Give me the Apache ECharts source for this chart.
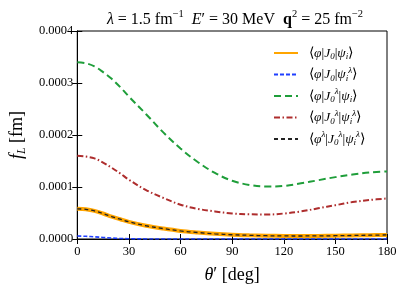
<!DOCTYPE html>
<html><head><meta charset="utf-8">
<script src="https://cdn.jsdelivr.net/npm/echarts@6/dist/echarts.min.js"></script>
<style>html,body{margin:0;padding:0;background:#fff}#c{width:407px;height:291px}</style>
</head><body><div id="c"></div>
<script>
const theta = [0,5,10,15,20,25,30,40,50,60,70,80,90,100,110,120,130,140,150,160,170,180];
// values in units of 1e-4 fm
const orangeVals = [0.58,0.57,0.54,0.49,0.43,0.38,0.33,0.255,0.20,0.155,0.125,0.10,0.082,0.071,0.063,0.059,0.058,0.060,0.063,0.068,0.073,0.078];
const blueVals   = [0.058,0.052,0.042,0.030,0.018,0.010,0.005,0.001,0,0,0,0,0,0,0,0,0,0,0,0,0,0];
const greenVals  = [3.40,3.38,3.32,3.21,3.08,2.92,2.74,2.40,2.05,1.74,1.48,1.27,1.12,1.04,1.01,1.02,1.07,1.13,1.19,1.24,1.28,1.30];
const redVals    = [1.60,1.585,1.55,1.47,1.37,1.26,1.14,0.94,0.79,0.66,0.58,0.53,0.49,0.475,0.47,0.49,0.53,0.59,0.65,0.71,0.75,0.78];
const blackVals  = [0.58,0.57,0.54,0.49,0.43,0.38,0.33,0.255,0.20,0.155,0.125,0.10,0.082,0.071,0.063,0.059,0.058,0.060,0.063,0.068,0.073,0.078];
const xTicks = [0,30,60,90,120,150,180];
const yTickLabels = ['0.0000','0.0001','0.0002','0.0003','0.0004'];

const F = 'Liberation Serif';
function pts(v){ return theta.map((t,i)=>[t, v[i]*1e-4]); }

const legendText = {
  a: '⟨{i|φ}|{i|J}{sub|0}|{i|ψ}{sub|i}⟩',
  b: '⟨{i|φ}|{i|J}{sub|0}|{i|ψ}{sub|i}{sup|λ}⟩',
  c: '⟨{i|φ}|{i|J}{sub|0}{sup|λ}|{i|ψ}{sub|i}⟩',
  d: '⟨{i|φ}|{i|J}{sub|0}{sup|λ}|{i|ψ}{sub|i}{sup|λ}⟩',
  e: '⟨{i|φ}{sup|λ}|{i|J}{sub|0}{sup|λ}|{i|ψ}{sub|i}{sup|λ}⟩'
};
const rich = {
  i: {fontFamily:F, fontStyle:'italic', fontSize:13.5, lineHeight:17, verticalAlign:'middle'},
  sub: {fontFamily:F, fontStyle:'italic', fontSize:9, lineHeight:8, verticalAlign:'bottom'},
  sup: {fontFamily:F, fontStyle:'italic', fontSize:9, lineHeight:8, verticalAlign:'top'}
};

const chart = echarts.init(document.getElementById('c'), null, {renderer:'canvas'});
chart.setOption({
  animation:false,
  backgroundColor:'#fff',
  title:{
    text:'{i|λ} = 1.5 fm{sup|−1}  {i|E}′ = 30 MeV  {b|q}{sup|2} = 25 fm{sup|−2}',
    left:230, top:4, textAlign:'center',
    textStyle:{fontFamily:F, fontSize:16, fontWeight:'normal', color:'#000', lineHeight:21,
      rich:{
        i:{fontFamily:F, fontStyle:'italic', fontSize:16, lineHeight:21, color:'#000'},
        b:{fontFamily:F, fontWeight:'bold', fontSize:16, lineHeight:21, color:'#000'},
        sup:{fontFamily:F, fontSize:10.5, lineHeight:10, verticalAlign:'top', color:'#000'}
      }}
  },
  grid:{left:74, right:20, top:31, bottom:52, show:true, borderColor:'#000', borderWidth:1},
  legend:{
    orient:'vertical', left:268, top:41, itemWidth:24, itemHeight:10, itemGap:4.5,
    itemStyle:{opacity:0},
    textStyle:{fontFamily:F, fontSize:13.5, color:'#000', padding:[0,0,0,6], rich:rich},
    formatter:n=>legendText[n]
  },
  xAxis:[{
    type:'value', min:0, max:180, interval:30,
    axisLine:{show:true, lineStyle:{color:'#000'}},
    axisTick:{inside:true, length:5, lineStyle:{color:'#000'}},
    splitLine:{show:false},
    axisLabel:{fontFamily:F, fontSize:12.5, color:'#000', margin:6, formatter:v=>String(v)},
    name:'{i|θ}′ [deg]', nameLocation:'middle', nameGap:27,
    nameTextStyle:{fontFamily:F, fontSize:18, color:'#000', rich:{i:{fontFamily:F, fontStyle:'italic', fontSize:18}}}
  },{
    type:'value', position:'top', min:0, max:180, interval:30,
    axisLine:{show:true, lineStyle:{color:'#000'}},
    axisTick:{inside:true, length:5, lineStyle:{color:'#000'}},
    axisLabel:{show:false}, splitLine:{show:false}
  }],
  yAxis:[{
    type:'value', min:0, max:0.0004, interval:0.0001,
    axisLine:{show:true, lineStyle:{color:'#000'}},
    axisTick:{inside:true, length:5, lineStyle:{color:'#000'}},
    splitLine:{show:false},
    axisLabel:{fontFamily:F, fontSize:12.5, color:'#000', margin:4, formatter:(v,i)=>yTickLabels[Math.round(v/0.0001)]},
    name:'{i|f}{sub|L} [fm]', nameLocation:'middle', nameGap:44, nameRotate:90,
    nameTextStyle:{fontFamily:F, fontSize:18, color:'#000', rich:{
      i:{fontFamily:F, fontStyle:'italic', fontSize:18, lineHeight:22, verticalAlign:'middle'},
      sub:{fontFamily:F, fontStyle:'italic', fontSize:12, lineHeight:12, verticalAlign:'bottom'}}}
  },{
    type:'value', position:'right', min:0, max:0.0004, interval:0.0001,
    axisLine:{show:true, lineStyle:{color:'#000'}},
    axisTick:{inside:true, length:5, lineStyle:{color:'#000'}},
    axisLabel:{show:false}, splitLine:{show:false}
  }],
  series:[
    {name:'a', type:'line', data:pts(orangeVals), smooth:0.35, symbol:'none', color:'#ffa500',
     lineStyle:{width:4, color:'#ffa500'}, z:2},
    {name:'b', type:'line', data:pts(blueVals), smooth:0.35, symbol:'none', color:'#1f3fff',
     lineStyle:{width:1.6, color:'#1f3fff', type:[4,2]}, z:3},
    {name:'c', type:'line', data:pts(greenVals), smooth:0.35, symbol:'none', color:'#1f9e3a',
     lineStyle:{width:2, color:'#1f9e3a', type:[7,4]}, z:3},
    {name:'d', type:'line', data:pts(redVals), smooth:0.35, symbol:'none', color:'#ae2d2d',
     lineStyle:{width:2, color:'#ae2d2d', type:[6,2.5,1.5,2.5]}, z:3},
    {name:'e', type:'line', data:pts(blackVals), smooth:0.35, symbol:'none', color:'#222',
     lineStyle:{width:1.3, color:'#222', type:[4,3]}, z:4}
  ]
});
</script></body></html>
